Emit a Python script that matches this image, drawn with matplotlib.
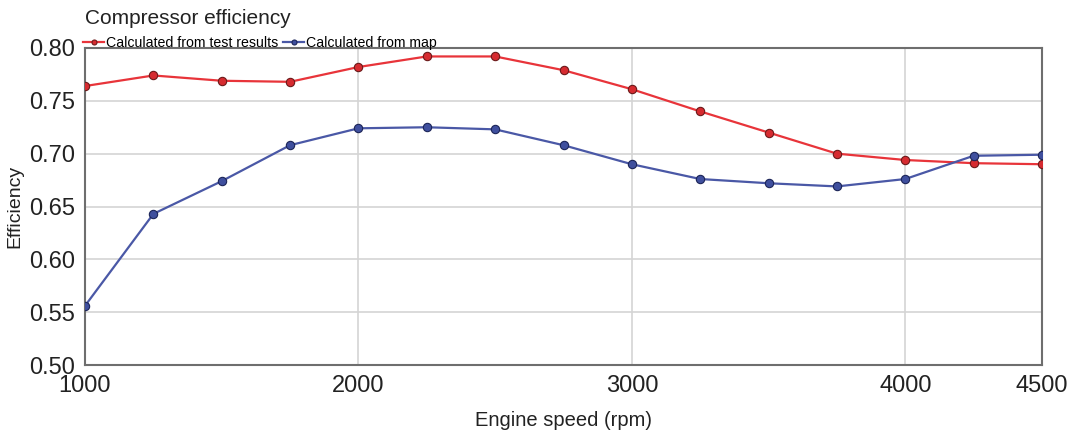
import matplotlib
matplotlib.use('Agg')
import matplotlib.pyplot as plt

# engine speed points (rpm) and compressor efficiency
speed = [1000, 1250, 1500, 1750, 2000, 2250, 2500, 2750, 3000, 3250, 3500, 3750, 4000, 4250, 4500]
eff_test = [0.764, 0.774, 0.769, 0.768, 0.782, 0.792, 0.792, 0.779, 0.761, 0.740, 0.720, 0.700, 0.694, 0.691, 0.690]
eff_map = [0.556, 0.643, 0.674, 0.708, 0.724, 0.725, 0.723, 0.708, 0.690, 0.676, 0.672, 0.669, 0.676, 0.698, 0.699]

x_ticks = [1000, 2000, 3000, 4000, 4500]
y_ticks = [0.50, 0.55, 0.60, 0.65, 0.70, 0.75, 0.80]

plt.rcParams['font.family'] = ['Liberation Sans', 'DejaVu Sans']

fig = plt.figure(figsize=(10.69, 4.36), dpi=100)
ax = fig.add_axes([85 / 1069, 1 - 365 / 436, (1042 - 85) / 1069, (365 - 48) / 436])

ax.plot(speed, eff_test, color='#e8343a', lw=1.6, marker='o', ms=6,
        mfc='#d62b30', mec='#6b1a1a', mew=0.8, label='Calculated from test results', zorder=3)
ax.plot(speed, eff_map, color='#4a58a6', lw=1.6, marker='o', ms=6,
        mfc='#3f4f9e', mec='#1c2558', mew=0.8, label='Calculated from map', zorder=3)

ax.set_xlim(1000, 4500)
ax.set_ylim(0.50, 0.80)
ax.set_xticks(x_ticks)
ax.set_yticks(y_ticks)
ax.set_yticklabels(['%.2f' % v for v in y_ticks])
ax.tick_params(length=0, labelsize=17, colors='#222222', pad=7)
ax.grid(True, color='#d4d4d4', lw=1.2)
ax.set_axisbelow(True)
for s in ax.spines.values():
    s.set_color('#6e6e6e')
    s.set_linewidth(1.5)

ax.set_xlabel('Engine speed (rpm)', fontsize=14.5, color='#222222', labelpad=10)
ax.set_ylabel('Efficiency', fontsize=14, color='#222222', labelpad=4)

fig.text(85 / 1069, 1 - 18 / 436, 'Compressor efficiency', fontsize=15, color='#222222',
         ha='left', va='center')
ax.legend(loc='lower left', bbox_to_anchor=(-0.002, 0.995), ncol=2, frameon=False,
          fontsize=10.2, handlelength=1.5, handletextpad=0.15, columnspacing=0.3,
          borderaxespad=0, borderpad=0, markerscale=0.6)

fig.savefig('out.png', dpi=100)
